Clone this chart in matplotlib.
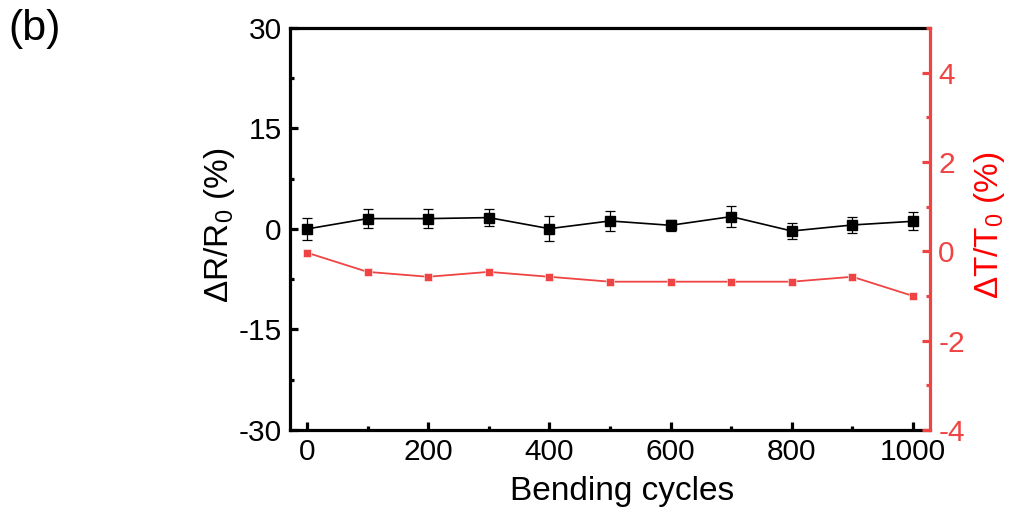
import matplotlib
matplotlib.use("Agg")
import matplotlib.pyplot as plt          # noqa: E402
from matplotlib.ticker import MultipleLocator  # noqa: E402

plt.rcParams["font.family"] = ["Liberation Sans", "DejaVu Sans"]
plt.rcParams["mathtext.fontset"] = "custom"
plt.rcParams["mathtext.rm"] = "Liberation Sans"
plt.rcParams["mathtext.it"] = "Liberation Sans:italic"
plt.rcParams["axes.unicode_minus"] = False

cycles = [0, 100, 200, 300, 400, 500, 600, 700, 800, 900, 1000]
dR = [0.0, 1.55, 1.55, 1.7, 0.05, 1.2, 0.55, 1.85, -0.3, 0.6, 1.15]
dR_err = [1.65, 1.4, 1.4, 1.3, 1.9, 1.45, 0.85, 1.6, 1.25, 1.2, 1.35]
dT = [-0.03, -0.46, -0.57, -0.46, -0.57, -0.68, -0.68, -0.68, -0.68, -0.57, -1.0]

RED = "#F04444"
FS = 21.5
LFS = 24

fig = plt.figure(figsize=(10.1, 5.12), dpi=100)
ax = fig.add_axes([0.2871, 0.1602, 0.9208 - 0.2871, 0.9453 - 0.1602])
ax2 = ax.twinx()

ax.errorbar(cycles, dR, yerr=dR_err, color="black", marker="s", ms=7, lw=1.2,
            elinewidth=0.9, capsize=3.5, capthick=0.9, zorder=3)
ax2.plot(cycles, dT, color=RED, marker="s", ms=6.3, lw=1.3, mec="white", mew=0.4)

ax.set_xlim(-28, 1028)
ax.set_ylim(-30, 30)
ax2.set_ylim(-4, 5)
ax.xaxis.set_major_locator(MultipleLocator(200))
ax.xaxis.set_minor_locator(MultipleLocator(100))
ax.yaxis.set_major_locator(MultipleLocator(15))
ax.yaxis.set_minor_locator(MultipleLocator(7.5))
ax2.yaxis.set_major_locator(MultipleLocator(2))
ax2.yaxis.set_minor_locator(MultipleLocator(1))

for s in ["left", "bottom", "top"]:
    ax.spines[s].set_linewidth(2.3)
ax.spines["right"].set_visible(False)
for s in ["left", "bottom", "top"]:
    ax2.spines[s].set_visible(False)
ax2.spines["right"].set_color(RED)
ax2.spines["right"].set_linewidth(2.3)

ax.tick_params(which="both", direction="in", width=2.3, labelsize=FS, top=False, right=False)
ax.tick_params(which="major", length=5.5, pad=6)
ax.tick_params(which="minor", length=3)
ax2.tick_params(which="both", direction="in", width=2.3, labelsize=FS,
                color=RED, labelcolor=RED)
ax2.tick_params(which="major", length=5.5, pad=6)
ax2.tick_params(which="minor", length=3)

ax.set_xlabel("Bending cycles", fontsize=LFS)
ax.set_ylabel(r"ΔR/R$_0$ (%)", fontsize=LFS)
ax2.set_ylabel(r"ΔT/T$_0$ (%)", fontsize=LFS, color="red")
ax.xaxis.set_label_coords(0.519, -0.115)
ax.yaxis.set_label_coords(-0.083, 0.51)
ax2.yaxis.set_label_coords(1.066, 0.51)

fig.text(0.008, 0.982, "(b)", fontsize=31, ha="left", va="top")

fig.savefig("out.png", dpi=100)
